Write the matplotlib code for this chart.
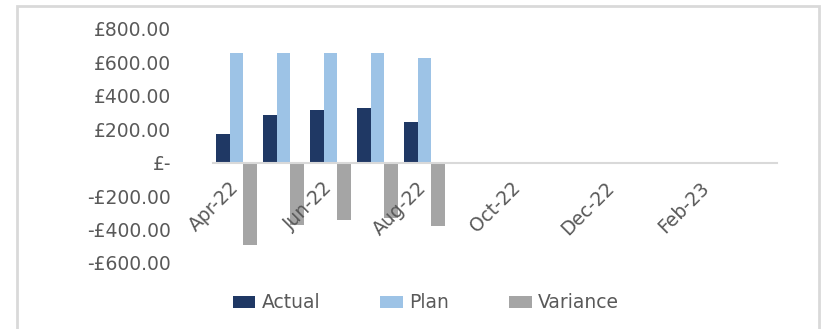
import numpy as np
import matplotlib.pyplot as plt
from matplotlib.patches import Rectangle
from matplotlib.transforms import ScaledTranslation

months = ['Apr-22', 'May-22', 'Jun-22', 'Jul-22', 'Aug-22', 'Sep-22',
          'Oct-22', 'Nov-22', 'Dec-22', 'Jan-23', 'Feb-23', 'Mar-23']
actual = [172, 285, 315, 327, 243]
plan = [659, 659, 659, 659, 627]
variance = [-494, -372, -342, -330, -378]

y_ticks = [-600, -400, -200, 0, 200, 400, 600, 800]
y_labels = ['-£600.00', '-£400.00', '-£200.00', '£-',
            '£200.00', '£400.00', '£600.00', '£800.00']

txt = '#595959'
fig = plt.figure(figsize=(8.21, 3.29), dpi=100)
ax = fig.add_axes([213 / 821, 1 - 263 / 329, 564 / 821, 234 / 329])

w = 0.29
x = np.arange(len(actual))
ax.bar(x - w, actual, w, color='#1f3864', label='Actual')
ax.bar(x, plan, w, color='#9dc3e6', label='Plan')
ax.bar(x + w, variance, w, color='#a5a5a5', label='Variance')

ax.set_xlim(-0.5, len(months) - 0.5)
ax.set_ylim(-600, 800)
ax.set_yticks(y_ticks)
ax.set_yticklabels(y_labels, fontsize=13.5, color=txt)
ax.tick_params(axis='y', length=0, pad=30)

ax.spines['bottom'].set_position(('data', 0))
ax.spines['bottom'].set_color('#d9d9d9')
ax.spines['bottom'].set_linewidth(1.5)
for s in ['top', 'right', 'left']:
    ax.spines[s].set_visible(False)

xt = list(range(0, len(months), 2))
ax.set_xticks(xt)
ax.set_xticklabels([months[i] for i in xt], fontsize=13.5, color=txt,
                   rotation=45, ha='right')
ax.tick_params(axis='x', length=0, pad=11)
shift = ScaledTranslation(6 / 100, 0, fig.dpi_scale_trans)
for lab in ax.get_xticklabels():
    lab.set_transform(lab.get_transform() + shift)

fig.legend(loc='center', bbox_to_anchor=(426 / 821, 1 - 303 / 329), ncol=3,
           frameon=False, fontsize=13.5, labelcolor=txt, handlelength=1.2,
           handleheight=0.55, handletextpad=0.35, columnspacing=3.2)

fig.patches.append(Rectangle((17 / 821, -0.05), 802 / 821, 323 / 329 + 0.05,
                             transform=fig.transFigure, fill=False,
                             edgecolor='#d9d9d9', lw=2))

fig.savefig('out.png', dpi=100)
